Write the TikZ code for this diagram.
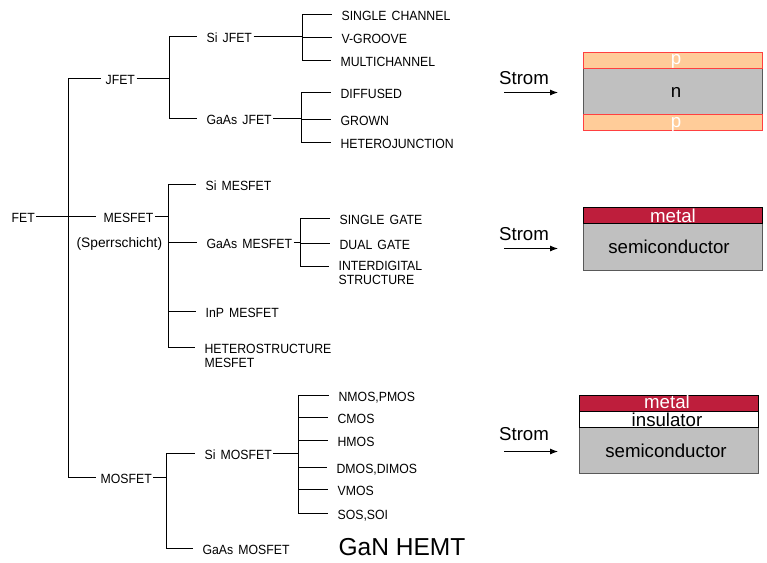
\documentclass[tikz,border=0pt]{standalone}
\usepackage{fontspec}
\usetikzlibrary{arrows.meta}
\setmainfont{Liberation Sans}
\newfontfamily\treefont[FakeStretch=0.92, WordSpace=1.5]{Liberation Sans}
\definecolor{pfill}{HTML}{FFCC99}
\definecolor{nfill}{HTML}{C0C0C0}
\definecolor{metalfill}{HTML}{BE1E3C}
\definecolor{pline}{HTML}{FF4040}
\begin{document}
\begin{tikzpicture}[x=0.75pt, y=-0.75pt, line width=0.95pt,
    lab/.style = {anchor=west, inner xsep=0.75pt, inner ysep=0pt, text height=10.5pt, text depth=1.5pt, font=\treefont\fontsize{10}{10}\selectfont},
    big/.style = {inner sep=0pt, font=\fontsize{14}{15}\selectfont},
    wbig/.style = {big, text=white},
    ptxt/.style = {big, text=white},
    twig/.style = {shorten >=6pt},
    current/.style = {-{Latex[length=6pt, width=4.5pt]}, line width=0.7pt},
    layer/.style = {line width=0.7pt, draw=black!65, fill=nfill},
    player/.style = {line width=0.7pt, draw=pline, fill=pfill},
    mlayer/.style = {line width=0.7pt, draw=black, fill=metalfill},
    ilayer/.style = {line width=0.7pt, draw=black, fill=white}]
    \useasboundingbox (0,0) rectangle (767,562);

    \node[lab] (fet) at (10,216.5) {FET};
    \node[lab] (jfet) at (104,78.5) {JFET};
    \node[lab] (mesfet) at (102,216.5) {MESFET};
    \node[anchor=west, inner sep=0pt, font=\fontsize{10.3}{11}\selectfont] (sperr) at (76,244) {(Sperrschicht)};
    \node[lab] (mosfet) at (99,477.5) {MOSFET};

    \node[lab] (sij) at (205,36.5) {Si JFET};
    \node[lab] (gaj) at (205,118.5) {GaAs JFET};
    \node[lab] (sim) at (204,184.5) {Si MESFET};
    \node[lab] (gam) at (205,242.5) {GaAs MESFET};
    \node[lab] (inp) at (204,311.5) {InP MESFET};
    \node[lab, align=left, text height=, text depth=, anchor=north west] (het) at (203,343.5) {HETEROSTRUCTURE\\[0.4pt]MESFET};
    \node[lab] (simos) at (203,453.5) {Si MOSFET};
    \node[lab] (gamos) at (201,548.5) {GaAs MOSFET};

    \node[lab] (sc) at (340,14.5) {SINGLE CHANNEL};
    \node[lab] (vg) at (340,37.5) {V-GROOVE};
    \node[lab] (mc) at (339,60.5) {MULTICHANNEL};
    \node[lab] (di) at (339,92.5) {DIFFUSED};
    \node[lab] (gr) at (339,119.5) {GROWN};
    \node[lab] (hj) at (339,142.5) {HETEROJUNCTION};
    \node[lab] (sg) at (338,218.5) {SINGLE GATE};
    \node[lab] (dg) at (338,243.5) {DUAL GATE};
    \node[lab, align=left, text height=, text depth=, anchor=north west] (ids) at (337,261) {INTERDIGITAL\\[0.4pt]STRUCTURE};
    \node[lab] (nm) at (337,395.5) {NMOS,PMOS};
    \node[lab] (cm) at (336,417.5) {CMOS};
    \node[lab] (hm) at (336,440.5) {HMOS};
    \node[lab] (dm) at (335,467.5) {DMOS,DIMOS};
    \node[lab] (vm) at (336,489.5) {VMOS};
    \node[lab] (so) at (336,513.5) {SOS,SOI};

    \coordinate (trunk) at (68.5,216.5);
    \coordinate (busj) at (169.5,78.5);
    \coordinate (busm) at (168.5,216.5);
    \coordinate (buso) at (166.5,477.5);
    \coordinate (bussi) at (302.5,36.5);
    \coordinate (busga) at (301.5,118.5);
    \coordinate (busgm) at (300.5,242.5);
    \coordinate (bussm) at (298.5,453.5);
    \coordinate (hetpt) at (203,347.5);
    \coordinate (idspt) at (337,266.5);

    \draw[shorten >=4.5pt] (fet) to (mesfet);
    \draw[twig, shorten >=2pt] (trunk) |- (jfet);
    \draw[twig, shorten >=2pt] (trunk) |- (mosfet);
    \draw (jfet) to (busj);
    \draw (mesfet) to (busm);
    \draw (mosfet) to (buso);

    \draw[twig] (busj) |- (sij);
    \draw[twig] (busj) |- (gaj);
    \draw[twig] (busm) |- (sim);
    \draw[twig] (busm) |- (gam);
    \draw[twig] (busm) |- (inp);
    \draw[twig] (busm) |- (hetpt);
    \draw[twig] (buso) |- (simos);
    \draw[twig] (buso) |- (gamos);

    \draw (sij) to (bussi);
    \draw (gaj) to (busga);
    \draw (gam) to (busgm);
    \draw (simos) to (bussm);

    \draw[twig] (bussi) |- (sc);
    \draw[twig] (bussi) |- (vg);
    \draw[twig] (bussi) |- (mc);
    \draw[twig] (busga) |- (di);
    \draw[twig] (busga) |- (gr);
    \draw[twig] (busga) |- (hj);
    \draw[twig] (busgm) |- (sg);
    \draw[twig] (busgm) |- (dg);
    \draw[twig] (busgm) |- (idspt);
    \draw[twig] (bussm) |- (nm);
    \draw[twig] (bussm) |- (cm);
    \draw[twig] (bussm) |- (hm);
    \draw[twig] (bussm) |- (dm);
    \draw[twig] (bussm) |- (vm);
    \draw[twig] (bussm) |- (so);

    \node[anchor=west, inner sep=0pt, font=\fontsize{18.4}{20}\selectfont] (gan) at (338,547) {GaN HEMT};

    \node[big] (strom1) at (524,78) {Strom};
    \node[big] (strom2) at (524,234) {Strom};
    \node[big] (strom3) at (524,434) {Strom};
    \coordinate (a1) at (504,92.5);
    \coordinate (b1) at (558,92.5);
    \coordinate (a2) at (504,248.5);
    \coordinate (b2) at (558,248.5);
    \coordinate (a3) at (504,451.5);
    \coordinate (b3) at (558,451.5);
    \draw[current] (a1) to (b1);
    \draw[current] (a2) to (b2);
    \draw[current] (a3) to (b3);

    \draw[layer] (583,68) rectangle (762,114);
    \draw[player] (583,52) rectangle (762,68);
    \draw[player] (583,114) rectangle (762,130);
    \node[ptxt] (p1) at (676,61) {p};
    \node[big] (n1) at (676,92) {n};
    \node[ptxt] (p2) at (676,124) {p};

    \draw[layer] (583,223) rectangle (762,270);
    \draw[mlayer] (583,207) rectangle (762,223);
    \node[wbig] (metal2) at (673,215.5) {metal};
    \node[big] (semi2) at (669,246.5) {semiconductor};

    \draw[layer] (579,427) rectangle (758,473);
    \draw[ilayer] (579,411) rectangle (758,427);
    \draw[mlayer] (579,395.5) rectangle (758,411);
    \node[wbig] (metal3) at (667,402) {metal};
    \node[big] (ins3) at (667,420) {insulator};
    \node[big] (semi3) at (666,451) {semiconductor};
\end{tikzpicture}
\end{document}
